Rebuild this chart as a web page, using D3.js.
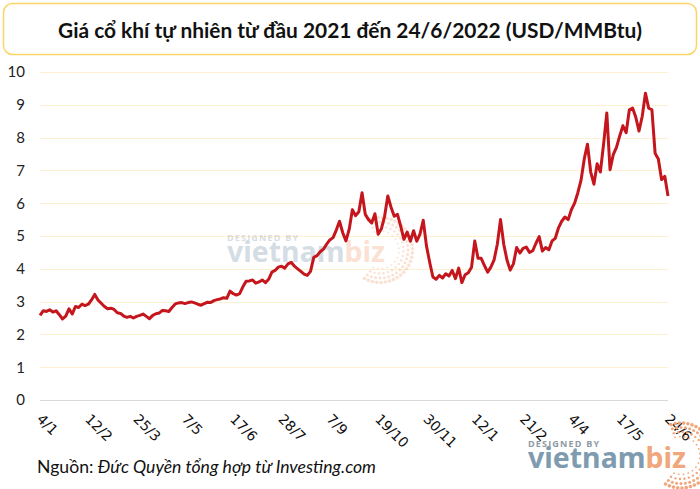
<!DOCTYPE html>
<html>
<head>
<meta charset="utf-8">
<script src="https://cdn.jsdelivr.net/npm/d3@7"></script>
<style>
  html, body { margin: 0; padding: 0; background: #ffffff; }
  svg { display: block; }
</style>
</head>
<body>
<svg id="chart" width="700" height="489"></svg>
<script>
// ---- data (~every 2 trading days) ----
const titleText = "Giá cổ khí tự nhiên từ đầu 2021 đến 24/6/2022 (USD/MMBtu)";
const tickLabels = ["4/1","12/2","25/3","7/5","17/6","28/7","7/9","19/10","30/11","12/1","21/2","4/4","17/5","24/6"];
const yTicks = [0,1,2,3,4,5,6,7,8,9,10];
const prices = [
  2.58,2.72,2.70,2.75,2.68,2.72,2.60,2.47,2.56,2.78,2.62,2.85,2.82,2.92,2.88,
  2.92,3.05,3.22,3.05,2.95,2.85,2.78,2.80,2.76,2.66,2.64,2.56,2.52,2.55,2.50,
  2.55,2.58,2.62,2.55,2.48,2.58,2.63,2.65,2.73,2.72,2.70,2.82,2.93,2.96,2.97,
  2.94,2.97,2.99,2.96,2.92,2.89,2.94,2.98,2.97,3.03,3.06,3.08,3.12,3.10,3.32,
  3.24,3.20,3.24,3.45,3.62,3.63,3.66,3.56,3.60,3.66,3.58,3.68,3.90,3.95,4.05,
  4.08,4.02,4.15,4.20,4.08,4.00,3.92,3.84,3.80,3.92,4.35,4.40,4.52,4.60,4.75,
  4.88,4.95,5.18,5.45,5.10,4.85,5.20,5.80,5.62,5.74,6.32,5.66,5.50,5.40,5.68,
  5.05,5.22,5.60,6.22,5.88,5.60,5.66,5.30,4.90,5.12,4.84,5.16,4.84,5.06,5.48,
  4.70,4.20,3.75,3.68,3.80,3.72,3.85,3.78,3.95,3.70,4.02,3.58,3.82,3.88,4.05,
  4.85,4.32,4.32,4.10,3.90,4.05,4.27,4.75,5.50,4.75,4.27,3.96,4.15,4.65,4.48,
  4.62,4.66,4.50,4.55,4.78,4.98,4.54,4.65,4.58,4.85,4.93,5.25,5.45,5.58,5.50,
  5.80,6.00,6.32,6.70,7.35,7.80,6.95,6.58,7.20,6.95,7.80,8.75,7.02,7.48,7.70,
  8.05,8.36,8.15,8.85,8.90,8.62,8.20,8.65,9.35,8.90,8.85,7.52,7.35,6.72,6.82,
  6.22
];
const sourceLabel = "Nguồn: ";
const sourceText = "Đức Quyền tổng hợp từ Investing.com";

// ---- layout ----
const svg = d3.select("#chart");
const plot = { left: 40, right: 668, top: 72, bottom: 400 };

// Title box
svg.append("rect")
  .attr("x", 3.5).attr("y", 3.5).attr("width", 693).attr("height", 51)
  .attr("rx", 9).attr("ry", 9)
  .attr("fill", "#ffffff").attr("stroke", "#fcd569").attr("stroke-width", 1.5);
svg.append("text")
  .attr("x", 350).attr("y", 37.5)
  .attr("text-anchor", "middle")
  .attr("font-family", "Lato, 'Noto Sans', sans-serif")
  .attr("font-weight", 700)
  .attr("font-size", 21)
  .attr("textLength", 584).attr("lengthAdjust", "spacingAndGlyphs")
  .attr("fill", "#111")
  .text(titleText);

// scales
const stepsPerTick = (prices.length - 1) / (tickLabels.length - 1);
const x = d3.scaleLinear().domain([0, prices.length - 1]).range([plot.left, plot.right]);
const y = d3.scaleLinear().domain([0, 10]).range([plot.bottom, plot.top]);

// gridlines
const grid = svg.append("g");
grid.selectAll("line").data(yTicks).join("line")
  .attr("x1", plot.left).attr("x2", plot.right)
  .attr("y1", d => Math.round(y(d)) + 0.5).attr("y2", d => Math.round(y(d)) + 0.5)
  .attr("stroke", d => d === 0 ? "#d9d9d9" : "#fdf1d2")
  .attr("stroke-width", 1);

// y axis labels
const yAxis = d3.axisLeft(y).tickValues(yTicks).tickSize(0).tickPadding(0).tickFormat(d3.format("d"));
const gy = svg.append("g").attr("transform", "translate(25,0)").call(yAxis);
gy.select(".domain").remove();
gy.selectAll("text")
  .attr("font-family", "Lato, sans-serif").attr("font-size", 15).attr("fill", "#222");

// watermark helper
function watermark(g, x0, y0, op) {
  const w = g.append("g").attr("transform", `translate(${x0},${y0})`).attr("opacity", op);
  const dots = [];
  for (let r = 0; r < 4; r++) {
    const rad = 19 + r * 4.5;
    const n = 16 + r * 5;
    for (let i = 0; i < n; i++) {
      const a = -Math.PI * 0.6 + (i / n) * Math.PI * 1.3;
      dots.push({ cx: 153 + rad * Math.cos(a), cy: 9 + rad * Math.sin(a), r: 0.9 + r * 0.3 });
    }
  }
  w.selectAll("circle").data(dots).join("circle")
    .attr("cx", d => d.cx).attr("cy", d => d.cy).attr("r", d => d.r)
    .attr("fill", "#f0a77b");
  w.append("text").attr("x", 0).attr("y", 0)
    .attr("font-family", "'Open Sans', sans-serif").attr("font-weight", 700)
    .attr("font-size", 9).attr("textLength", 71).attr("lengthAdjust", "spacing")
    .attr("fill", "#8d9aa5")
    .text("DESIGNED BY");
  const t = w.append("text").attr("x", 0).attr("y", 21)
    .attr("font-family", "'Noto Sans', sans-serif").attr("font-weight", 700)
    .attr("font-size", 28).attr("textLength", 158).attr("lengthAdjust", "spacingAndGlyphs");
  t.append("tspan").attr("fill", "#7e9bb0").text("vietnam");
  t.append("tspan").attr("fill", "#f0a77b").text("biz");
}
watermark(svg, 227, 241, 0.33);

// line
const line = d3.line().x((d, i) => x(i)).y(d => y(d));
svg.append("path").datum(prices)
  .attr("d", line)
  .attr("fill", "none")
  .attr("stroke", "#c4161c")
  .attr("stroke-width", 3)
  .attr("stroke-linejoin", "round");

// x tick labels (rotated)
const xt = svg.append("g");
xt.selectAll("text").data(tickLabels).join("text")
  .attr("transform", (d, i) => `translate(${x(i * stepsPerTick) - 4},${420}) rotate(45)`)
  .attr("font-family", "'DejaVu Sans', sans-serif")
  .attr("font-size", 14)
  .attr("fill", "#111")
  .attr("text-anchor", "start")
  .text(d => d);

// source
const src = svg.append("text").attr("x", 37).attr("y", 473)
  .attr("font-family", "Lato, sans-serif").attr("font-size", 16.5).attr("fill", "#111")
  .attr("textLength", 339).attr("lengthAdjust", "spacingAndGlyphs");
src.append("tspan").text(sourceLabel);
src.append("tspan").attr("font-style", "italic").text(sourceText);

// bottom-right watermark
watermark(svg, 528, 446.5, 1.0);
</script>
</body>
</html>
